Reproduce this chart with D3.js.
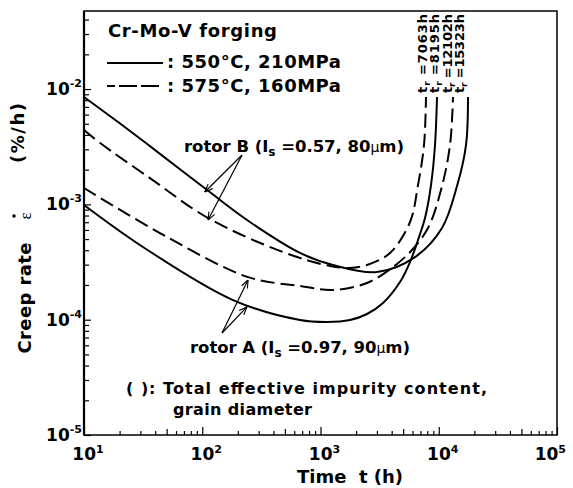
<!DOCTYPE html>
<html>
<head>
<meta charset="utf-8">
<script src="https://cdn.jsdelivr.net/npm/d3@7"></script>
<style>
  body { margin: 0; background: #fff; }
  text { font-family: "DejaVu Sans", sans-serif; font-weight: bold; fill: #000; }
</style>
</head>
<body>
<svg id="chart" width="573" height="488"></svg>
<script>
// Creep rate vs time for two Cr-Mo-V rotor forgings
// values (time in h, creep rate in %/h)

// rotor B, 550 C / 210 MPa (solid)
var tB550 = [10, 19.4, 36.1, 110, 253, 671, 1276, 3005, 6299, 10650, 14270, 17000, 17680];
var eB550 = [8.52e-3, 5.18e-3, 3.2e-3, 1.33e-3, 7.03e-4, 3.79e-4, 2.98e-4, 2.59e-4, 3.49e-4, 6.23e-4, 1.44e-3, 3.27e-3, 8.52e-3];

// rotor B, 575 C / 160 MPa (dashed)
var tB575 = [10, 13.7, 36.1, 112, 482, 1203, 1776, 2474, 3870, 5714, 6677, 7505, 7802];
var eB575 = [4.41e-3, 3.4e-3, 1.69e-3, 7.61e-4, 3.86e-4, 2.92e-4, 2.81e-4, 2.98e-4, 3.79e-4, 7.03e-4, 1.47e-3, 3.27e-3, 8.52e-3];

// rotor A, 575 C / 160 MPa (dashed)
var tA575 = [10, 50.3, 244, 671, 1276, 2474, 4104, 5940, 8113, 10447, 12450, 13200];
var eA575 = [1.386e-3, 5.21e-4, 2.34e-4, 1.96e-4, 1.81e-4, 2.08e-4, 2.86e-4, 4.02e-4, 6.23e-4, 1.33e-3, 3.27e-3, 8.52e-3];

// rotor A, 550 C / 210 MPa (solid)
var tA550 = [10, 31.5, 182, 671, 1135, 1776, 2474, 3377, 4701, 5714, 6677, 7652, 8601, 9297, 9665];
var eA550 = [9.87e-4, 4.27e-4, 1.48e-4, 9.93e-5, 9.54e-5, 9.93e-5, 1.12e-4, 1.395e-4, 2.12e-4, 3.16e-4, 4.91e-4, 7.61e-4, 1.47e-3, 3.27e-3, 8.52e-3];

// rupture times written above the curve ends
var ruptureLabels = ["7063h", "8195h", "12102h", "15323h"];

// tick decades
var xDecades = [1, 2, 3, 4, 5];
var yDecades = [-2, -3, -4, -5];

// arrows: [tail t, tail e, tip t, tip e]
var arrowsB = [[217, 2.68e-3, 105, 1.28e-3], [217, 2.68e-3, 112, 7.31e-4]];
var arrowsA = [[147, 7.66e-5, 244, 2.21e-4], [147, 7.66e-5, 239, 1.29e-4]];


var svg = d3.select("#chart");

var x = d3.scaleLog().domain([10, 1e5]).range([84, 557]);
var y = d3.scaleLog().domain([1e-5, 0.0475]).range([435, 11]);

// Tick value sets
var xMinor = [], xMid = [], xMajor = [];
for (var d = 1; d <= 4; d++) {
  for (var k = 1; k <= 9; k++) {
    var v = k * Math.pow(10, d);
    if (k === 1) xMajor.push(v);
    else if (k === 5) xMid.push(v);
    else xMinor.push(v);
  }
}
xMajor.push(1e5);

var yMinor = [], yMajor = [];
for (var d2 = -5; d2 <= -2; d2++) {
  for (var k2 = 1; k2 <= 9; k2++) {
    var v2 = k2 * Math.pow(10, d2);
    if (v2 > 0.0475) break;
    if (k2 === 1) yMajor.push(v2);
    else yMinor.push(v2);
  }
}

function tickAxis(axis, vals, size, tr) {
  var g = svg.append("g").attr("transform", tr)
    .call(axis.tickValues(vals).tickSize(size).tickFormat(""));
  g.select(".domain").remove();
  g.selectAll(".tick line").attr("stroke", "#000").attr("stroke-width", 1.2);
}
tickAxis(d3.axisBottom(x), xMinor, -4, "translate(0,435)");
tickAxis(d3.axisBottom(x), xMid, -6, "translate(0,435)");
tickAxis(d3.axisBottom(x), xMajor, -8, "translate(0,435)");
tickAxis(d3.axisLeft(y), yMinor, -5, "translate(84,0)");
tickAxis(d3.axisLeft(y), yMajor, -7, "translate(84,0)");

// Frame
svg.append("rect")
  .attr("x", x(10)).attr("y", y(0.0475))
  .attr("width", x(1e5) - x(10)).attr("height", y(1e-5) - y(0.0475))
  .attr("fill", "none").attr("stroke", "#000").attr("stroke-width", 1.5);
svg.append("line")
  .attr("x1", x(10)).attr("x2", x(10)).attr("y1", y(0.0475)).attr("y2", y(1e-5))
  .attr("stroke", "#000").attr("stroke-width", 2.2);

// Tick labels
xDecades.forEach(function (p) {
  var last = p === 5;
  var t = svg.append("text")
    .attr("x", last ? 566 : x(Math.pow(10, p)) + 4)
    .attr("y", 460)
    .attr("text-anchor", last ? "end" : "middle")
    .attr("font-size", 17);
  t.append("tspan").text("10");
  t.append("tspan").attr("dy", -7).attr("font-size", 11).text(p);
});

yDecades.forEach(function (p) {
  var t = svg.append("text")
    .attr("x", 82)
    .attr("y", y(Math.pow(10, p)) + 6)
    .attr("text-anchor", "end")
    .attr("font-size", 17);
  t.append("tspan").text("10");
  t.append("tspan").attr("dy", -8).attr("font-size", 11).text("-" + (-p));
});

// Axis titles
svg.append("text").attr("x", 350).attr("y", 483).attr("text-anchor", "middle")
  .attr("font-size", 18).attr("xml:space", "preserve").text("Time  t (h)");

svg.append("text").attr("transform", "translate(31,298) rotate(-90)")
  .attr("text-anchor", "middle").attr("font-size", 18).attr("textLength", 111)
  .text("Creep rate");
svg.append("text").attr("transform", "translate(31,216) rotate(-90)")
  .attr("text-anchor", "middle").attr("font-size", 17)
  .style("font-family", "'Liberation Serif', serif").style("font-weight", "normal")
  .text("ε");
svg.append("circle").attr("cx", 14).attr("cy", 216).attr("r", 1.7).attr("fill", "#000");
svg.append("text").attr("transform", "translate(24,133) rotate(-90)")
  .attr("text-anchor", "middle").attr("font-size", 18).attr("textLength", 60)
  .text("(%/h)");

// Curves
var curves = [
  {t: tB550, e: eB550, dash: null},
  {t: tB575, e: eB575, dash: "14,6"},
  {t: tA575, e: eA575, dash: "14,6"},
  {t: tA550, e: eA550, dash: null}
];

var line = d3.line()
  .x(function (d) { return x(d[0]); })
  .y(function (d) { return y(d[1]); })
  .curve(d3.curveCatmullRom.alpha(0.5));

curves.forEach(function (c) {
  svg.append("path")
    .datum(d3.zip(c.t, c.e))
    .attr("d", line)
    .attr("fill", "none")
    .attr("stroke", "#000")
    .attr("stroke-width", 2)
    .attr("stroke-dasharray", c.dash);
});

// Rupture time labels (same order as the curve ends, left to right)
var ruptureX = [427, 439, 452, 464];
ruptureLabels.forEach(function (lab, i) {
  var t = svg.append("text")
    .attr("transform", "translate(" + ruptureX[i] + ",93) rotate(-90)")
    .attr("font-size", 13)
    .attr("textLength", 79);
  t.append("tspan").text("t");
  t.append("tspan").attr("dy", 3).attr("font-size", 9).text("r");
  t.append("tspan").attr("dy", -3).text(" =" + lab);
});

// Arrows
svg.append("defs").append("marker")
  .attr("id", "ah").attr("viewBox", "0 0 10 10")
  .attr("refX", 10).attr("refY", 5)
  .attr("markerWidth", 8).attr("markerHeight", 8)
  .attr("markerUnits", "userSpaceOnUse").attr("orient", "auto")
  .append("path").attr("d", "M0,1 L10,5 L0,9")
  .attr("fill", "none").attr("stroke", "#000").attr("stroke-width", 1.4);

arrowsB.concat(arrowsA).forEach(function (a) {
  svg.append("line")
    .attr("x1", x(a[0])).attr("y1", y(a[1]))
    .attr("x2", x(a[2])).attr("y2", y(a[3]))
    .attr("stroke", "#000").attr("stroke-width", 1.2)
    .attr("marker-end", "url(#ah)");
});

// Rotor labels
function rotorLabel(xp, yp, name, imp, grain) {
  var t = svg.append("text").attr("x", xp).attr("y", yp)
    .attr("font-size", 16.5).attr("textLength", 220).attr("xml:space", "preserve");
  t.append("tspan").text("rotor " + name + " (I");
  t.append("tspan").attr("dy", 4).attr("font-size", 12).text("s");
  t.append("tspan").attr("dy", -4).text(" =" + imp + ", " + grain);
  t.append("tspan").attr("font-size", 14).style("font-weight", "normal").text("μ");
  t.append("tspan").text("m)");
}
rotorLabel(184, 152, "B", "0.57", "80");
rotorLabel(190, 353, "A", "0.97", "90");

// Title and legend
svg.append("text").attr("x", 108).attr("y", 37).attr("font-size", 18)
  .attr("textLength", 169).text("Cr-Mo-V forging");

svg.append("line").attr("x1", 107).attr("x2", 163).attr("y1", 63).attr("y2", 63)
  .attr("stroke", "#000").attr("stroke-width", 2);
svg.append("text").attr("x", 167).attr("y", 68).attr("font-size", 18)
  .attr("textLength", 174).text(": 550°C, 210MPa");

svg.append("line").attr("x1", 107).attr("x2", 163).attr("y1", 86).attr("y2", 86)
  .attr("stroke", "#000").attr("stroke-width", 2).attr("stroke-dasharray", "8,4,18,4,18,4");
svg.append("text").attr("x", 167).attr("y", 92).attr("font-size", 18)
  .attr("textLength", 174).text(": 575°C, 160MPa");

// Footnote
svg.append("text").attr("x", 126).attr("y", 394).attr("font-size", 16).text("(");
svg.append("text").attr("x", 141).attr("y", 394).attr("font-size", 16).text(")");
svg.append("text").attr("x", 149).attr("y", 394).attr("font-size", 16)
  .attr("textLength", 338).text(": Total effective impurity content,");
svg.append("text").attr("x", 173).attr("y", 415).attr("font-size", 16)
  .attr("textLength", 139).text("grain diameter");
</script>
</body>
</html>
